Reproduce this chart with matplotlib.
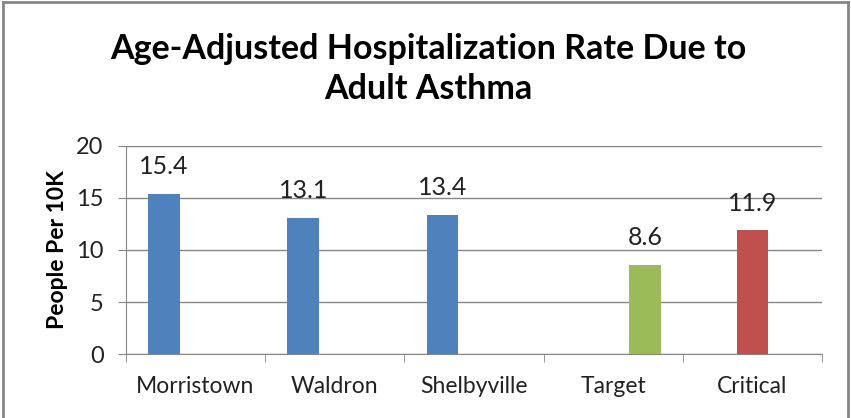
import matplotlib.pyplot as plt
from matplotlib.lines import Line2D

categories = ["Morristown", "Waldron", "Shelbyville", "Target", "Critical"]
values = [15.4, 13.1, 13.4, 8.6, 11.9]
colors = ["#4F81BD", "#4F81BD", "#4F81BD", "#9BBB59", "#C0504D"]
# slot inside each category cluster (Excel-style 3-series cluster)
slots = [-1, -1, -1, 1, 0]

plt.rcParams["font.family"] = ["Lato", "DejaVu Sans"]

fig = plt.figure(figsize=(8.51, 4.18), dpi=100)
ax = fig.add_axes([0.148, 0.153, 0.818, 0.498])

width = 0.227
for i, (v, c, s) in enumerate(zip(values, colors, slots)):
    x = i + s * width
    ax.bar(x, v, width=width, color=c, zorder=3)
    ax.annotate(f"{v}", (x, v), xytext=(0, 11), textcoords="offset points",
                ha="center", va="bottom", fontsize=18, color="#222222")

ax.set_xlim(-0.5, len(categories) - 0.5)
ax.set_ylim(0, 20)
ax.set_yticks([0, 5, 10, 15, 20])
ax.set_xticks(range(len(categories)))
ax.set_xticklabels(categories)
ax.set_xticks([i - 0.5 for i in range(len(categories) + 1)], minor=True)
ax.tick_params(axis="x", which="major", length=0, pad=16, labelsize=16.5,
               labelcolor="#222222")
ax.tick_params(axis="x", which="minor", length=6, color="#868686")
ax.tick_params(axis="y", length=6, color="#868686", labelsize=17, pad=10,
               labelcolor="#222222")

ax.grid(axis="y", color="#868686", linewidth=1, zorder=0)
for side in ["top", "right"]:
    ax.spines[side].set_visible(False)
for side in ["left", "bottom"]:
    ax.spines[side].set_color("#868686")

ax.set_ylabel("People Per 10K", fontsize=16.5, fontweight="bold", labelpad=6)

fig.text(0.503, 0.835, "Age-Adjusted Hospitalization Rate Due to\nAdult Asthma",
         ha="center", va="center", fontsize=24.5, fontweight="bold",
         linespacing=1.32, color="black")

# chart area border (bottom edge cut off in the original)
for xs, ys in [([0.003, 0.003], [0, 0.995]), ([0.003, 0.997], [0.995, 0.995]),
               ([0.997, 0.997], [0, 0.995])]:
    fig.add_artist(Line2D(xs, ys, color="#868686", linewidth=2,
                          transform=fig.transFigure))

fig.savefig("out.png", dpi=100)
